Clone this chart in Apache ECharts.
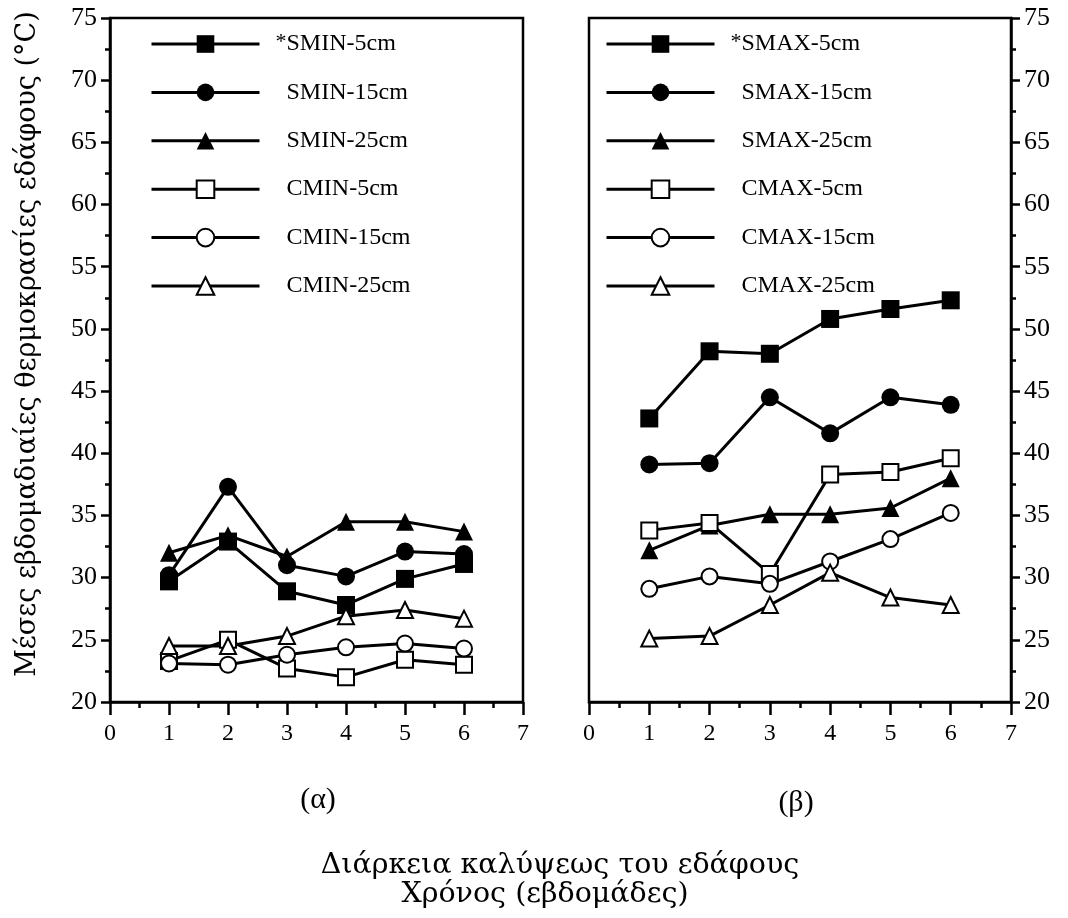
<!DOCTYPE html>
<html>
<head>
<meta charset="utf-8">
<script src="https://cdn.jsdelivr.net/npm/echarts@6/dist/echarts.min.js"></script>
<style>
html,body{margin:0;padding:0;background:#fff;}
#c{width:1068px;height:918px;}
</style>
</head>
<body>
<div id="c"></div>
<script>
// ---- data ----
var weeks = [1, 2, 3, 4, 5, 6];
var xTicks = [0, 1, 2, 3, 4, 5, 6, 7];
var yTicks = [20, 25, 30, 35, 40, 45, 50, 55, 60, 65, 70, 75];

var minNames = ['SMIN-5cm', 'SMIN-15cm', 'SMIN-25cm', 'CMIN-5cm', 'CMIN-15cm', 'CMIN-25cm'];
var maxNames = ['SMAX-5cm', 'SMAX-15cm', 'SMAX-25cm', 'CMAX-5cm', 'CMAX-15cm', 'CMAX-25cm'];

var SMIN_5  = [29.7, 32.9, 28.9, 27.8, 29.9, 31.1];
var SMIN_15 = [30.2, 37.3, 31.0, 30.1, 32.1, 31.9];
var SMIN_25 = [32.0, 33.4, 31.7, 34.5, 34.5, 33.7];
var CMIN_5  = [23.3, 25.0, 22.7, 22.0, 23.4, 23.0];
var CMIN_15 = [23.1, 23.0, 23.8, 24.4, 24.7, 24.3];
var CMIN_25 = [24.5, 24.5, 25.3, 26.9, 27.4, 26.7];

var SMAX_5  = [42.8, 48.2, 48.0, 50.8, 51.6, 52.3];
var SMAX_15 = [39.1, 39.2, 44.5, 41.6, 44.5, 43.9];
var SMAX_25 = [32.2, 34.2, 35.1, 35.1, 35.6, 38.0];
var CMAX_5  = [33.8, 34.4, 30.3, 38.3, 38.5, 39.6];
var CMAX_15 = [29.1, 30.1, 29.5, 31.3, 33.1, 35.2];
var CMAX_25 = [25.1, 25.3, 27.8, 30.4, 28.4, 27.8];

var symbols = ['rect', 'circle', 'triangle', 'emptyRect', 'emptyCircle', 'emptyTriangle'];

var minSeries = [SMIN_5, SMIN_15, SMIN_25, CMIN_5, CMIN_15, CMIN_25];
var maxSeries = [SMAX_5, SMAX_15, SMAX_25, CMAX_5, CMAX_15, CMAX_25];

var serif = '"Liberation Serif", "Times New Roman", serif';
var greek = '"DejaVu Serif", serif';

function pairs(vals) {
  return weeks.map(function (w, i) { return [w, vals[i]]; });
}

function mkSeries(name, vals, sym, axisIdx) {
  var empty = sym.indexOf('empty') === 0;
  return {
    name: name,
    type: 'line',
    xAxisIndex: axisIdx,
    yAxisIndex: axisIdx,
    data: pairs(vals),
    symbol: sym,
    symbolSize: empty ? 16 : 18,
    showSymbol: true,
    lineStyle: { color: '#000', width: 3 },
    itemStyle: empty
      ? { color: '#000', borderColor: '#000', borderWidth: 2.8 }
      : { color: '#000', borderWidth: 0 },
    emphasis: { disabled: true },
    animation: false,
    z: empty ? 3 : 2
  };
}

var series = [];
minNames.forEach(function (n, i) { series.push(mkSeries(n, minSeries[i], symbols[i], 0)); });
maxNames.forEach(function (n, i) { series.push(mkSeries(n, maxSeries[i], symbols[i], 1)); });

function xAxisCfg(gi) {
  return {
    type: 'value', gridIndex: gi, min: xTicks[0], max: xTicks[xTicks.length - 1], interval: 1,
    axisLine: { show: true, onZero: false, lineStyle: { color: '#000', width: 2.5 } },
    axisTick: { show: true, inside: false, length: 13, lineStyle: { color: '#000', width: 2.5 } },
    minorTick: { show: true, splitNumber: 2, length: 6, lineStyle: { color: '#000', width: 2.5 } },
    splitLine: { show: false },
    axisLabel: { color: '#000', fontSize: 24, fontFamily: serif, margin: 20 }
  };
}
function yAxisCfg(gi, pos) {
  return {
    type: 'value', gridIndex: gi, position: pos, min: yTicks[0], max: yTicks[yTicks.length - 1], interval: 5,
    axisLine: { show: true, onZero: false, lineStyle: { color: '#000', width: 2.5 } },
    axisTick: { show: true, inside: false, length: 9, lineStyle: { color: '#000', width: 2.5 } },
    minorTick: { show: true, splitNumber: 2, length: 5, lineStyle: { color: '#000', width: 2.5 } },
    splitLine: { show: false },
    axisLabel: { color: '#000', fontSize: 26, fontFamily: serif, margin: 13 }
  };
}

function legendCfg(names, left) {
  return {
    data: names,
    orient: 'vertical',
    left: left,
    top: 26,
    itemWidth: 108,
    itemHeight: 22,
    itemGap: 24.4,
    selectedMode: false,
    lineStyle: { width: 3, color: '#000' },
    formatter: function (name) {
      if (name === names[0]) return '{g2| }{s|*}{t|' + name + '}';
      return '{g| }{t|' + name + '}';
    },
    textStyle: {
      color: '#000', fontFamily: serif, fontSize: 24,
      rich: {
        g: { width: 22 },
        g2: { width: 11 },
        s: { width: 11, fontSize: 22, fontFamily: serif, color: '#000', verticalAlign: 'top', lineHeight: 8 },
        t: { fontSize: 24, fontFamily: serif, color: '#000', lineHeight: 26 }
      }
    }
  };
}

var chart = echarts.init(document.getElementById('c'), null, { renderer: 'canvas' });
chart.setOption({
  backgroundColor: '#fff',
  animation: false,
  grid: [
    { left: 110, top: 18, width: 413, height: 684, show: true, borderColor: '#000', borderWidth: 2.5, backgroundColor: 'transparent' },
    { left: 589, top: 18, width: 422, height: 684, show: true, borderColor: '#000', borderWidth: 2.5, backgroundColor: 'transparent' }
  ],
  xAxis: [xAxisCfg(0), xAxisCfg(1)],
  yAxis: [yAxisCfg(0, 'left'), yAxisCfg(1, 'right')],
  legend: [legendCfg(minNames, 145), legendCfg(maxNames, 600)],
  series: series,
  graphic: [
    { type: 'text', x: 28, y: 344, rotation: Math.PI / 2,
      style: { text: 'Μέσες εβδομαδιαίες θερμοκρασίες εδάφους (°C)', fill: '#000', font: '27px ' + greek, textAlign: 'center', textVerticalAlign: 'middle' } },
    { type: 'text', x: 318, y: 800,
      style: { text: '(α)', fill: '#000', font: '30px ' + serif, textAlign: 'center', textVerticalAlign: 'middle' } },
    { type: 'text', x: 796, y: 803,
      style: { text: '(β)', fill: '#000', font: '30px ' + serif, textAlign: 'center', textVerticalAlign: 'middle' } },
    { type: 'text', x: 560, y: 866,
      style: { text: 'Διάρκεια καλύψεως του εδάφους', fill: '#000', font: '28.5px ' + greek, textAlign: 'center', textVerticalAlign: 'middle' } },
    { type: 'text', x: 545, y: 895,
      style: { text: 'Χρόνος (εβδομάδες)', fill: '#000', font: '28.5px ' + greek, textAlign: 'center', textVerticalAlign: 'middle' } }
  ]
});
</script>
</body>
</html>
